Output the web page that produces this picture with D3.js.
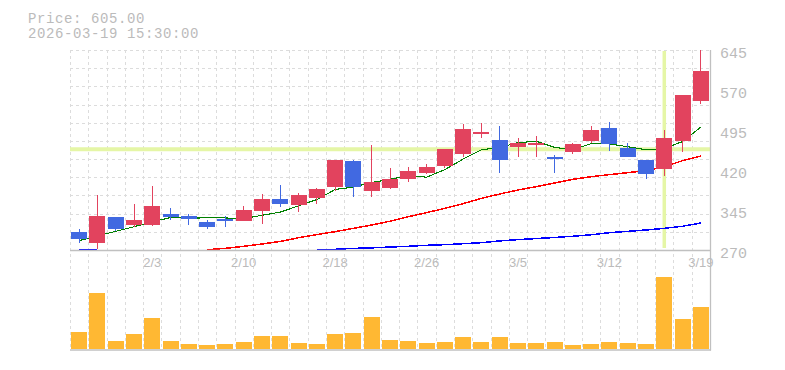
<!DOCTYPE html>
<html>
<head>
<meta charset="utf-8">
<script src="https://cdn.jsdelivr.net/npm/d3@7"></script>
<style>
body { margin: 0; background: #fff; }
</style>
</head>
<body>
<svg id="chart_svg" width="785" height="370"></svg>
<script>
/**
 * Data
 */
var dates = ["1/28", "1/29", "1/30", "2/2", "2/3", "2/4", "2/5", "2/6", "2/9", "2/10",
    "2/12", "2/13", "2/16", "2/17", "2/18", "2/19", "2/20", "2/24", "2/25", "2/26",
    "2/27", "3/2", "3/3", "3/4", "3/5", "3/6", "3/9", "3/10", "3/11", "3/12",
    "3/13", "3/16", "3/17", "3/18", "3/19"];
var opens  = [303.8, 283.7, 331.9, 317.4, 317.4, 337.5, 333.8, 322.5, 327.5, 325,
    343.8, 365, 354.4, 368, 387.5, 436.9, 381.3, 386.9, 403.7, 415,
    428, 449.4, 490.6, 476.3, 463.8, 467.5, 444.4, 454.4, 475, 498,
    461.9, 438.8, 422.5, 475, 549.4];
var highs  = [309.4, 373, 332, 356, 390, 348, 337.5, 326.3, 333.8, 352.5,
    375, 391.9, 376.3, 385.6, 439.5, 438.8, 466.9, 423, 426, 431,
    460, 506, 507.5, 502.5, 479.4, 483.8, 448, 471, 502.5, 510.6,
    470, 438.8, 495, 561, 645];
var lows   = [282.5, 271.3, 305, 313.7, 315, 326.9, 317.4, 310, 312.5, 324.5,
    318.8, 350, 341.9, 356.3, 381, 370, 370, 385, 398, 412.5,
    424, 445, 479.4, 413.8, 445, 445, 415, 449.4, 471.3, 456.2,
    445, 403.7, 408.8, 454.4, 543.8];
var closes = [291.2, 333.8, 310, 326.3, 352.5, 331.9, 327.5, 313.7, 325, 345,
    365, 356.3, 373, 383.8, 438.8, 388.8, 398, 403, 418, 425,
    459.4, 496.9, 490.6, 438.8, 471.3, 471.3, 440.6, 468.8, 495, 468.8,
    445, 412.5, 480, 560.6, 605];
var volumes = [16600, 55600, 8300, 14600, 30600, 8300, 5300, 4300, 5300, 7300,
    13300, 13300, 6300, 5300, 14600, 15600, 31300, 9300, 8300, 6300,
    7300, 12300, 7300, 12300, 6300, 6300, 7300, 4300, 5300, 7300,
    6300, 5300, 71600, 29300, 41300];
var ma5  = [287.5, 296.3, 305, 313.7, 322.7, 330.9, 329.6, 330.4, 330.1, 328.6,
    335.2, 341, 352.9, 364.6, 383.4, 388.1, 396.5, 402.5, 409.3, 406.6,
    420.7, 440.5, 458, 462.1, 471.4, 473.8, 462.5, 458.1, 469.4, 468.9,
    463.6, 458, 460.3, 473.4, 500.6];
var ma25 = [null, null, null, null, null, null, null, 270.5, 273.1, 276.9,
    281.3, 286, 293, 298.8, 304.4, 310.6, 316.9, 324, 332.5, 340,
    348.1, 356.9, 366.9, 375, 382.5, 388.8, 395.6, 402.5, 407.5, 411.3,
    415, 418.8, 426.3, 437.5, 446.3];
var ma75 = [271.3, 271.3, null, null, null, null, null, null, null, null,
    null, null, null, 270.2, 271.3, 273, 274, 275.6, 276.9, 278.8,
    280, 281.8, 283.7, 287, 289.4, 291.5, 293.5, 295.8, 298.5, 302.5,
    305, 307.5, 310.6, 314.5, 320.6];
var priceTicks = [270, 345, 420, 495, 570, 645];
var dateTicks = ["2/3", "2/10", "2/18", "2/26", "3/5", "3/12", "3/19"];
var crossDate = "3/17";
var crossPrice = 459;
var infoLines = ["Price: 605.00", "2026-03-19 15:30:00"];

window.onload = function(){
    var chart = new CandleChart();
    chart.svg = d3.select("#chart_svg");
    chart.draw();
};

var CandleChart = function(){
    this.svg;
    this.left = 70;
    this.right = 710;
    this.priceTop = 50;
    this.priceBottom = 250;
    this.volTop = 268;
    this.volBottom = 349;
    this.upColor = "#e2435e";
    this.downColor = "#4169e1";
    this.textColor = "#bbbbbb";

    this.draw = function(){
        var self = this;
        var svg = this.svg;

        var xScale = d3.scaleBand()
            .domain(dates)
            .range([this.left, this.right])
            .paddingInner(0.125)
            .paddingOuter(0.0625);
        var step = xScale.step();
        var cx = function(d){ return xScale(d) + xScale.bandwidth()/2; };

        var yScale = d3.scaleLinear()
            .domain([270, 645])
            .range([this.priceBottom, this.priceTop]);

        var vScale = d3.scaleLinear()
            .domain([0, 80000])
            .range([this.volBottom, this.volTop]);

        // grid
        var grid = svg.append("g")
            .style("stroke", "#dcdcdc")
            .style("stroke-dasharray", "3,3")
            .attr("shape-rendering", "crispEdges");
        grid.selectAll(".vgrid")
            .data(dates)
            .enter()
            .append("line")
            .attr("class", "vgrid")
            .attr("x1", function(d, i){ return Math.round(self.left + i*step) + 0.5; })
            .attr("x2", function(d, i){ return Math.round(self.left + i*step) + 0.5; })
            .attr("y1", this.priceTop)
            .attr("y2", this.volBottom + 1);
        grid.selectAll(".hgrid")
            .data(d3.range(11))
            .enter()
            .append("line")
            .attr("class", "hgrid")
            .attr("x1", this.left)
            .attr("x2", this.right)
            .attr("y1", function(d){ return Math.round(self.priceTop + d*200/11) + 0.5; })
            .attr("y2", function(d){ return Math.round(self.priceTop + d*200/11) + 0.5; });

        // crosshair
        svg.append("line")
            .attr("x1", this.left)
            .attr("x2", this.right)
            .attr("y1", yScale(crossPrice))
            .attr("y2", yScale(crossPrice))
            .style("stroke", "#e5f6a6")
            .style("stroke-width", 4);
        svg.append("line")
            .attr("x1", cx(crossDate))
            .attr("x2", cx(crossDate))
            .attr("y1", this.priceTop + 1)
            .attr("y2", this.priceBottom - 2)
            .style("stroke", "#e5f6a6")
            .style("stroke-width", 3.5);

        // clip for the price panel
        svg.append("clipPath")
            .attr("id", "priceClip")
            .append("rect")
            .attr("x", this.left)
            .attr("y", this.priceTop)
            .attr("width", this.right - this.left)
            .attr("height", this.priceBottom - this.priceTop);

        // moving averages
        var maLine = function(values){
            return d3.line()
                .defined(function(d, i){ return values[i] !== null; })
                .x(function(d){ return cx(d); })
                .y(function(d, i){ return yScale(values[i]); })(dates);
        };
        var mas = [
            {v: ma75, c: "#0000ff", w: 1.5},
            {v: ma25, c: "#ff0000", w: 1.5},
            {v: ma5, c: "#008000", w: 1.1}
        ];
        svg.append("g")
            .attr("clip-path", "url(#priceClip)")
            .selectAll("path")
            .data(mas)
            .enter()
            .append("path")
            .attr("d", function(d){ return maLine(d.v); })
            .attr("shape-rendering", "crispEdges")
            .style("fill", "none")
            .style("stroke", function(d){ return d.c; })
            .style("stroke-width", function(d){ return d.w; });

        // candles
        var color = function(i){
            return closes[i] >= opens[i] ? self.upColor : self.downColor;
        };
        var candles = svg.append("g")
            .attr("clip-path", "url(#priceClip)")
            .attr("shape-rendering", "crispEdges");
        candles.selectAll("line")
            .data(dates)
            .enter()
            .append("line")
            .attr("x1", function(d){ return Math.floor(cx(d)) + 0.5; })
            .attr("x2", function(d){ return Math.floor(cx(d)) + 0.5; })
            .attr("y1", function(d, i){ return yScale(highs[i]); })
            .attr("y2", function(d, i){ return yScale(lows[i]); })
            .style("stroke", function(d, i){ return color(i); })
            .style("stroke-width", 1.2);
        candles.selectAll("rect")
            .data(dates)
            .enter()
            .append("rect")
            .attr("x", function(d){ return xScale(d); })
            .attr("width", xScale.bandwidth())
            .attr("y", function(d, i){ return yScale(Math.max(opens[i], closes[i])); })
            .attr("height", function(d, i){
                return Math.max(2, Math.abs(yScale(opens[i]) - yScale(closes[i])));
            })
            .style("fill", function(d, i){ return color(i); });

        // volume
        svg.append("g")
            .selectAll("rect")
            .data(dates)
            .enter()
            .append("rect")
            .attr("x", function(d){ return xScale(d); })
            .attr("width", xScale.bandwidth())
            .attr("y", function(d, i){ return vScale(volumes[i]); })
            .attr("height", function(d, i){ return self.volBottom - vScale(volumes[i]); })
            .attr("shape-rendering", "crispEdges")
            .style("fill", "#ffb833");

        // frame
        var frame = svg.append("g")
            .style("stroke", "#c0c0c0")
            .style("stroke-width", 1.3)
            .style("fill", "none");
        frame.append("line")
            .attr("x1", this.left).attr("x2", this.right + 1)
            .attr("y1", this.priceBottom + 0.5).attr("y2", this.priceBottom + 0.5);
        frame.append("line")
            .attr("x1", this.left).attr("x2", this.right + 1)
            .attr("y1", this.volBottom + 1).attr("y2", this.volBottom + 1);
        frame.append("line")
            .attr("x1", this.right + 0.5).attr("x2", this.right + 0.5)
            .attr("y1", this.priceTop).attr("y2", this.volBottom + 1.5);

        // price labels
        svg.append("g")
            .selectAll("text")
            .data(priceTicks)
            .enter()
            .append("text")
            .attr("x", this.right + 10)
            .attr("y", function(d){ return yScale(d) + 8; })
            .style("font", "15px 'Liberation Mono', monospace")
            .style("fill", this.textColor)
            .text(function(d){ return d; });

        // date labels
        svg.append("g")
            .selectAll("text")
            .data(dateTicks)
            .enter()
            .append("text")
            .attr("x", function(d){ return cx(d); })
            .attr("y", this.priceBottom + 17)
            .style("text-anchor", "middle")
            .style("font", "13px 'Liberation Sans', Arial, sans-serif")
            .style("fill", this.textColor)
            .text(function(d){ return d; });

        // info text
        svg.append("g")
            .selectAll("text")
            .data(infoLines)
            .enter()
            .append("text")
            .attr("x", 28)
            .attr("y", function(d, i){ return 22.5 + i*15; })
            .style("font", "14px 'Liberation Mono', monospace")
            .style("letter-spacing", "0.6px")
            .style("fill", this.textColor)
            .text(function(d){ return d; });
    };
};
</script>
</body>
</html>
